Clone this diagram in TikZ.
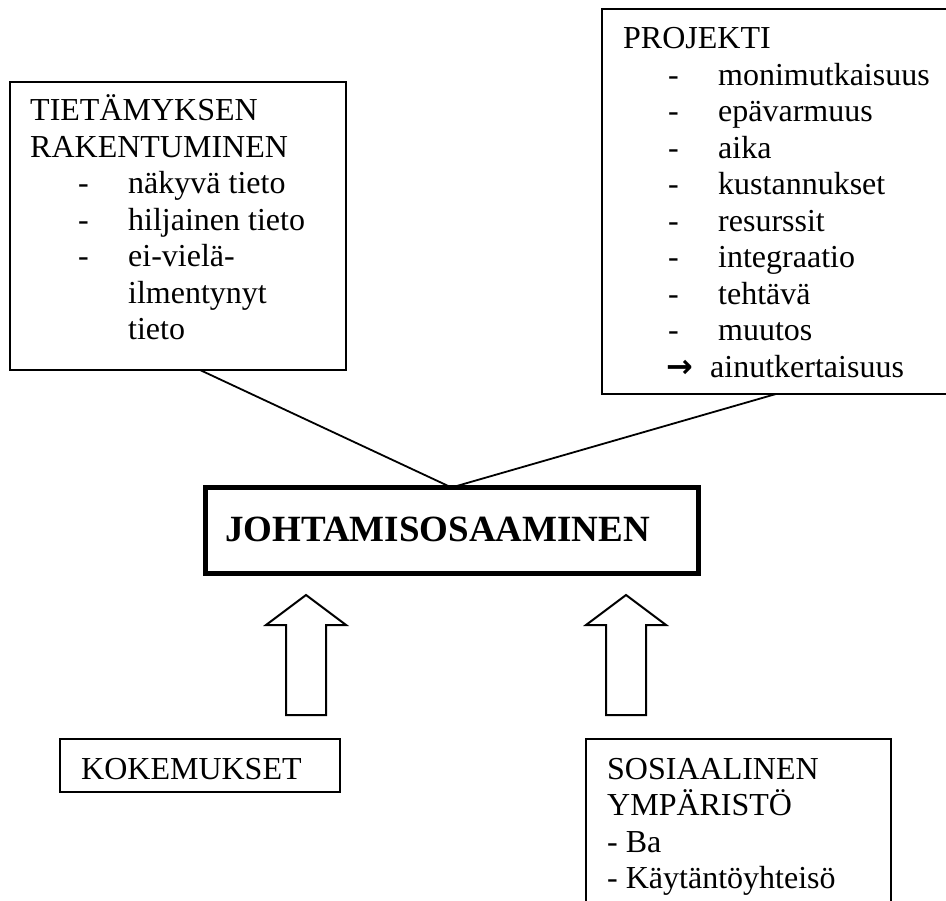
\documentclass[tikz,border=0pt]{standalone}
\usepackage{fontspec}
\setmainfont{Liberation Serif}
\newfontfamily\symfont{DejaVu Sans}
\begin{document}
\begin{tikzpicture}[x=1pt,y=-1pt,
  box/.style={draw=black, line width=2pt, fill=white, inner sep=0pt, outer sep=0pt, anchor=north west},
  txt/.style={anchor=base west, inner sep=0pt, font=\fontsize{32}{36.5}\selectfont},
  head/.style={anchor=base west, inner sep=0pt, font=\fontsize{37}{42}\selectfont\bfseries},
  link/.style={draw=black, line width=1.8pt},
  blockarrow/.style={draw=black, line width=2pt, fill=white, line join=miter}]
\useasboundingbox (0,0) rectangle (946,901);
\fill[white] (0,0) rectangle (946,901);

% knowledge box (top left)
\node[box, minimum width=336pt, minimum height=288pt] (tk) at (10,82) {};
\node[txt] (tk-t1) at (30,121) {TIETÄMYKSEN};
\node[txt] (tk-t2) at (30,157.5) {RAKENTUMINEN};
\node[txt] (tk-d1) at (78,194) {-};
\node[txt] (tk-i1) at (128,194) {näkyvä tieto};
\node[txt] (tk-d2) at (78,230.5) {-};
\node[txt] (tk-i2) at (128,230.5) {hiljainen tieto};
\node[txt] (tk-d3) at (78,267) {-};
\node[txt] (tk-i3) at (128,267) {ei-vielä-};
\node[txt] (tk-i4) at (128,303.5) {ilmentynyt};
\node[txt] (tk-i5) at (128,340) {tieto};
\coordinate (tkfoot) at (200,370);

% project box (top right)
\node[box, minimum width=348pt, minimum height=385pt] (pr) at (602,9) {};
\node[txt] (pr-t) at (623,49) {PROJEKTI};
\foreach \w [count=\k] in {monimutkaisuus,epävarmuus,aika,kustannukset,resurssit,integraatio,tehtävä,muutos}{
  \node[txt] (pr-d\k) at (668,{49+36.5*\k}) {-};
  \node[txt] (pr-i\k) at (718,{49+36.5*\k}) {\w};
}
\node[txt] (pr-arr) at (666,377.5) {{\symfont\bfseries →}};
\node[txt] (pr-last) at (710,377.5) {ainutkertaisuus};

% central competence box
\node[box, line width=5pt, minimum width=493pt, minimum height=85.5pt] (jo) at (205,487.5) {};
\node[head] (jo-t) at (225,541) {JOHTAMISOSAAMINEN};

\draw[link] (tkfoot) -- (jo.north);
\draw[link] (pr.south) -- (jo.north);

% block arrows
\draw[blockarrow] (286,715) -- (286,625) -- (266,625) -- (306,595) -- (346,625) -- (326,625) -- (326,715) -- cycle;
\draw[blockarrow] (606,715) -- (606,625) -- (586,625) -- (626,595) -- (666,625) -- (646,625) -- (646,715) -- cycle;

% experience box
\node[box, minimum width=280pt, minimum height=53pt] (ko) at (60,739) {};
\node[txt] (ko-t) at (81,779) {KOKEMUKSET};

% social environment box
\node[box, minimum width=305pt, minimum height=170pt] (so) at (586,739) {};
\node[txt] (so-t1) at (607,779) {SOSIAALINEN};
\node[txt] (so-t2) at (607,815.5) {YMPÄRISTÖ};
\node[txt] (so-t3) at (607,852) {- Ba};
\node[txt] (so-t4) at (607,888.5) {- Käytäntöyhteisö};
\end{tikzpicture}
\end{document}
